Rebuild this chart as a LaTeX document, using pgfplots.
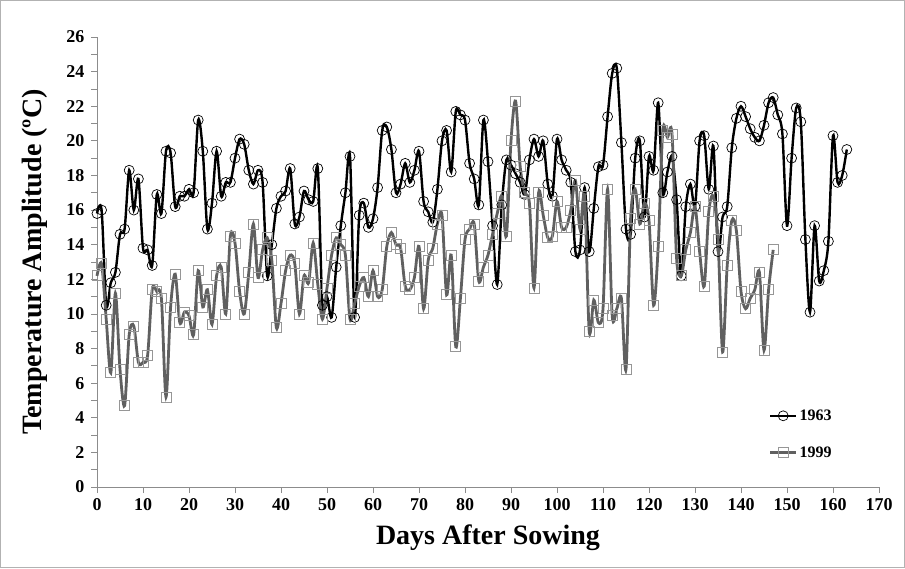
\documentclass[border=0pt]{standalone}
\usepackage{pgfplots}
\pgfplotsset{compat=1.18}
\usepackage{pgfplotstable}
\usepackage{fontspec}
\setmainfont{Liberation Serif}
\definecolor{line99}{RGB}{96,96,96}
\definecolor{mark99}{RGB}{150,150,150}
\definecolor{axgray}{RGB}{140,140,140}
\pgfplotstableread{
d v
0 15.8
1 16.0
2 10.5
3 11.8
4 12.4
5 14.6
6 14.9
7 18.3
8 16.0
9 17.8
10 13.8
11 13.7
12 12.8
13 16.9
14 15.8
15 19.4
16 19.3
17 16.2
18 16.8
19 16.8
20 17.2
21 17.0
22 21.2
23 19.4
24 14.9
25 16.4
26 19.4
27 16.8
28 17.6
29 17.6
30 19.0
31 20.1
32 19.8
33 18.3
34 17.5
35 18.3
36 17.6
37 12.2
38 14.0
39 16.1
40 16.8
41 17.1
42 18.4
43 15.2
44 15.6
45 17.1
46 16.6
47 16.5
48 18.4
49 10.5
50 11.0
51 9.8
52 12.7
53 15.1
54 17.0
55 19.1
56 9.8
57 15.7
58 16.4
59 15.0
60 15.5
61 17.3
62 20.6
63 20.8
64 19.5
65 17.0
66 17.5
67 18.7
68 17.6
69 18.3
70 19.4
71 16.5
72 15.9
73 15.3
74 17.2
75 20.0
76 20.6
77 18.2
78 21.7
79 21.5
80 21.2
81 18.7
82 17.8
83 16.3
84 21.2
85 18.8
86 15.1
87 11.7
88 16.3
89 18.9
90 18.6
91 18.1
92 17.6
93 16.9
94 18.9
95 20.1
96 19.1
97 20.0
98 17.5
99 16.8
100 20.1
101 18.9
102 18.3
103 17.6
104 13.6
105 13.7
106 17.3
107 13.6
108 16.1
109 18.5
110 18.6
111 21.4
112 23.9
113 24.2
114 19.9
115 14.9
116 14.6
117 19.0
118 20.0
119 15.6
120 19.1
121 18.3
122 22.2
123 17.0
124 18.2
125 19.1
126 16.6
127 12.2
128 16.2
129 17.5
130 16.2
131 20.0
132 20.3
133 17.2
134 19.7
135 13.6
136 15.6
137 16.2
138 19.6
139 21.3
140 22.0
141 21.4
142 20.7
143 20.2
144 20.0
145 20.9
146 22.2
147 22.5
148 21.5
149 20.4
150 15.1
151 19.0
152 21.9
153 21.1
154 14.3
155 10.1
156 15.1
157 11.9
158 12.5
159 14.2
160 20.3
161 17.6
162 18.0
163 19.5
}\dataA
\pgfplotstableread{
d v
0 12.2
1 12.9
2 9.7
3 6.6
4 11.2
5 6.8
6 4.7
7 8.8
8 9.3
9 7.2
10 7.2
11 7.6
12 11.4
13 11.3
14 10.9
15 5.2
16 10.4
17 12.3
18 9.5
19 10.1
20 9.9
21 8.8
22 12.5
23 10.4
24 11.4
25 9.4
26 12.2
27 12.7
28 10.0
29 14.5
30 14.1
31 11.3
32 10.0
33 12.4
34 15.2
35 12.1
36 13.7
37 14.4
38 13.1
39 9.2
40 10.6
41 12.5
42 13.4
43 12.9
44 10.0
45 12.2
46 11.8
47 14.1
48 11.7
49 9.7
50 11.5
51 13.4
52 14.4
53 14.0
54 13.4
55 9.7
56 10.6
57 11.6
58 12.1
59 11.0
60 12.5
61 11.0
62 11.4
63 13.9
64 14.7
65 14.0
66 13.8
67 11.6
68 11.4
69 12.1
70 13.9
71 10.3
72 13.1
73 13.8
74 15.2
75 15.7
76 11.1
77 13.4
78 8.1
79 10.9
80 14.3
81 14.9
82 15.2
83 11.9
84 12.7
85 13.4
86 14.6
87 15.8
88 16.8
89 14.5
90 20.0
91 22.3
92 18.5
93 17.0
94 16.4
95 11.5
96 17.0
97 15.7
98 14.4
99 14.5
100 16.5
101 15.0
102 15.0
103 16.0
104 17.7
105 14.9
106 16.8
107 9.0
108 10.8
109 9.5
110 10.3
111 17.2
112 9.9
113 10.3
114 10.9
115 6.8
116 15.5
117 17.2
118 15.2
119 16.4
120 15.4
121 10.5
122 13.9
123 20.6
124 20.2
125 20.4
126 13.2
127 12.2
128 13.7
129 14.7
130 16.2
131 13.6
132 11.6
133 15.9
134 16.8
135 14.3
136 7.8
137 12.8
138 15.4
139 14.8
140 11.3
141 10.3
142 10.9
143 11.4
144 12.4
145 7.9
146 11.4
147 13.7
}\dataB
\begin{document}
\begin{tikzpicture}[x=1pt,y=1pt]
\useasboundingbox (0,0) rectangle (905,568);
\fill[white] (0,0) rectangle (905,568);
\draw[gray!60, line width=0.8pt] (0.5,0.5) rectangle (904.5,567.5);
\begin{axis}[
  at={(97pt,81pt)}, anchor=south west,
  scale only axis, width=782pt, height=450pt,
  xmin=0, xmax=170, ymin=0, ymax=26,
  axis x line*=bottom, axis y line*=left,
  axis line style={axgray, line width=0.8pt, -},
  xtick={0,10,...,170}, ytick={0,2,...,26},
  minor ytick={1,3,...,25},
  tick align=outside, major tick length=6pt, minor tick length=6pt,
  tick style={axgray, line width=0.8pt},
  ticklabel style={font=\fontsize{18}{21}\selectfont\bfseries},
  yticklabel style={xshift=-3pt},
  xticklabel style={yshift=-2pt},
  /pgf/number format/assume math mode=true,
  xlabel={Days After Sowing}, ylabel={Temperature Amplitude (ºC)},
  label style={font=\fontsize{28}{32}\selectfont\bfseries},
  xlabel style={at={(axis description cs:0.5,-0.112)}, anchor=center},
  ylabel style={at={(axis description cs:-0.080,0.5)}, anchor=center},
  legend style={at={(0.855,0.181)}, anchor=north west, draw=none, fill=none,
    font=\fontsize{16}{19}\selectfont\bfseries, row sep=21pt},
  legend cell align=left,
  legend image code/.code={\draw[mark repeat=2,mark phase=2] plot coordinates {(0pt,0pt) (13pt,0pt) (26pt,0pt)};},
  clip=false,
]
\addplot[black, line width=2.4pt, smooth, tension=0.5, mark=o, mark size=5pt,
  mark options={solid, line width=0.7pt, black}] table[x=d,y=v] {\dataA};
\addlegendentry{1963}
\addplot[line99, line width=2.8pt, smooth, tension=0.5, mark=square, mark size=5pt,
  mark options={solid, line width=0.8pt, draw=mark99}] table[x=d,y=v] {\dataB};
\addlegendentry{1999}
\end{axis}
\end{tikzpicture}
\end{document}
